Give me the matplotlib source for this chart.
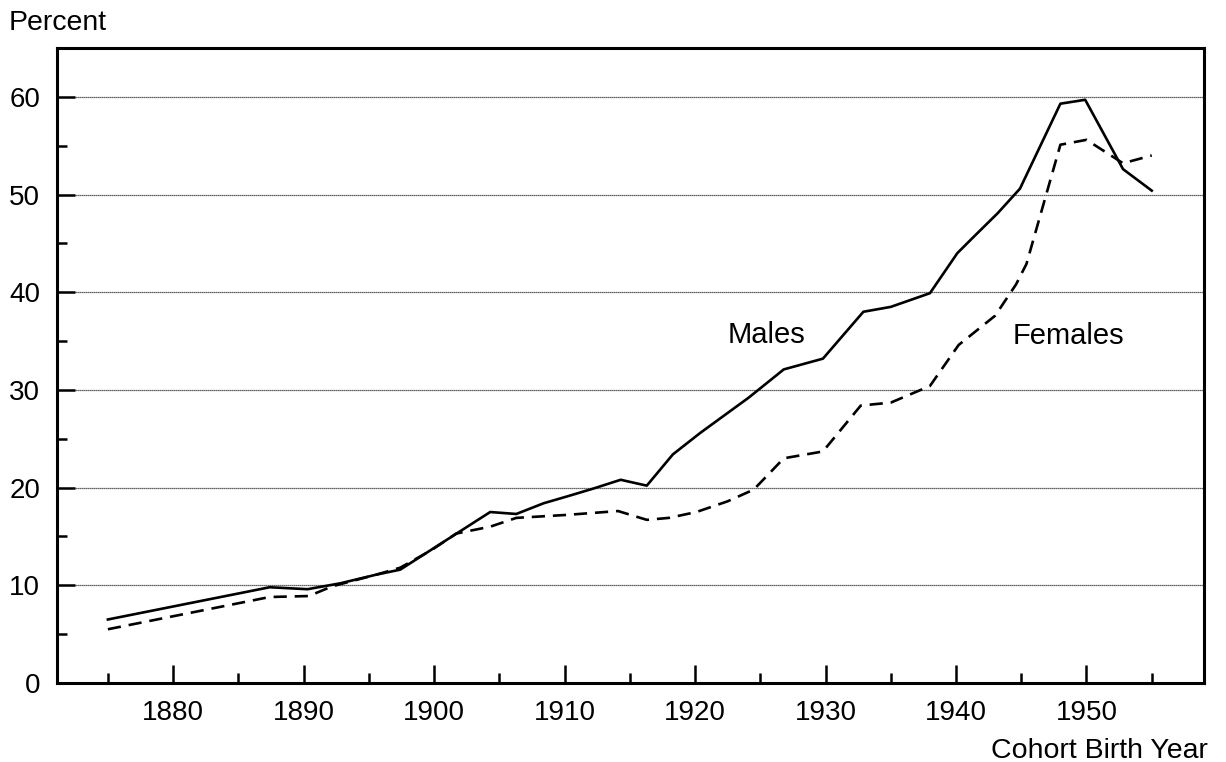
"""
Cohort percentages by birth year, males vs females.
Redrawn from a scanned figure.
"""

import matplotlib.pyplot as plt
from matplotlib.ticker import MultipleLocator

plt.rcParams['font.family'] = ['Liberation Sans', 'DejaVu Sans']

# values
male_years = [1875, 1887.4, 1890.3, 1892.8, 1895.6, 1897.4, 1904.3, 1906.3,
              1908.4, 1910.2, 1912.2, 1914.3, 1916.3, 1918.3, 1920.4, 1924.1,
              1926.8, 1929.8, 1932.9, 1935.0, 1938.0, 1940.1, 1941.3, 1943.2,
              1944.9, 1948.0, 1949.9, 1952.8, 1955.0]
male_pct = [6.5, 9.8, 9.6, 10.2, 11.1, 11.6, 17.5, 17.3,
            18.4, 19.1, 19.9, 20.8, 20.2, 23.4, 25.6, 29.2,
            32.1, 33.2, 38.0, 38.5, 39.9, 44.0, 45.6, 48.1,
            50.6, 59.3, 59.7, 52.6, 50.4]

female_years = [1875, 1887.4, 1890.4, 1892.2, 1895.6, 1897.4, 1899.8, 1901.7,
                1904.3, 1906.3, 1910.1, 1914.1, 1916.3, 1918.0, 1920.1, 1922.5,
                1924.5, 1926.8, 1929.8, 1932.7, 1935.0, 1938.0, 1940.2, 1943.0,
                1944.6, 1945.4, 1948.0, 1950.0, 1952.8, 1955.0]
female_pct = [5.5, 8.8, 8.9, 9.9, 11.1, 11.8, 13.6, 15.3,
              16.0, 16.9, 17.2, 17.6, 16.7, 16.9, 17.5, 18.6,
              19.8, 23.0, 23.7, 28.4, 28.7, 30.4, 34.6, 37.6,
              40.8, 42.9, 55.1, 55.6, 53.2, 54.0]

year_ticks = [1880, 1890, 1900, 1910, 1920, 1930, 1940, 1950]
pct_ticks = [0, 10, 20, 30, 40, 50, 60]


def plot_cohorts():
    fig = plt.figure(figsize=(12.26, 7.62), dpi=100)
    ax = fig.add_axes([0.0465, 0.1037, 0.9355, 0.8333])

    for y in pct_ticks[1:]:
        ax.axhline(y, color='#333333', lw=0.9, ls=(0, (1, 0.6)), zorder=1)

    ax.plot(male_years, male_pct, color='black', lw=1.9, zorder=3)
    ax.plot(female_years, female_pct, color='black', lw=1.9,
            dashes=(5, 3), zorder=3)

    ax.text(1922.5, 34.8, 'Males', fontsize=21, ha='left', va='baseline')
    ax.text(1944.3, 34.7, 'Females', fontsize=21, ha='left', va='baseline')

    ax.set_xlim(1871.1, 1959.0)
    ax.set_ylim(0, 65)
    ax.set_xticks(year_ticks)
    ax.set_yticks(pct_ticks)
    ax.xaxis.set_minor_locator(MultipleLocator(5))
    ax.yaxis.set_minor_locator(MultipleLocator(5))
    ax.tick_params(which='both', direction='in', width=1.8, labelsize=20)
    ax.tick_params(which='major', length=13)
    ax.tick_params(which='minor', length=7)
    ax.tick_params(axis='x', which='both', pad=12)
    ax.tick_params(axis='y', which='both', pad=12)

    for s in ax.spines.values():
        s.set_linewidth(2.2)

    fig.text(0.007, 0.961, 'Percent', fontsize=20.5, ha='left', va='baseline')
    fig.text(0.985, 0.005, 'Cohort Birth Year', fontsize=20.5,
             ha='right', va='baseline')

    fig.savefig('out.png', dpi=100)


if __name__ == "__main__":
    plot_cohorts()
